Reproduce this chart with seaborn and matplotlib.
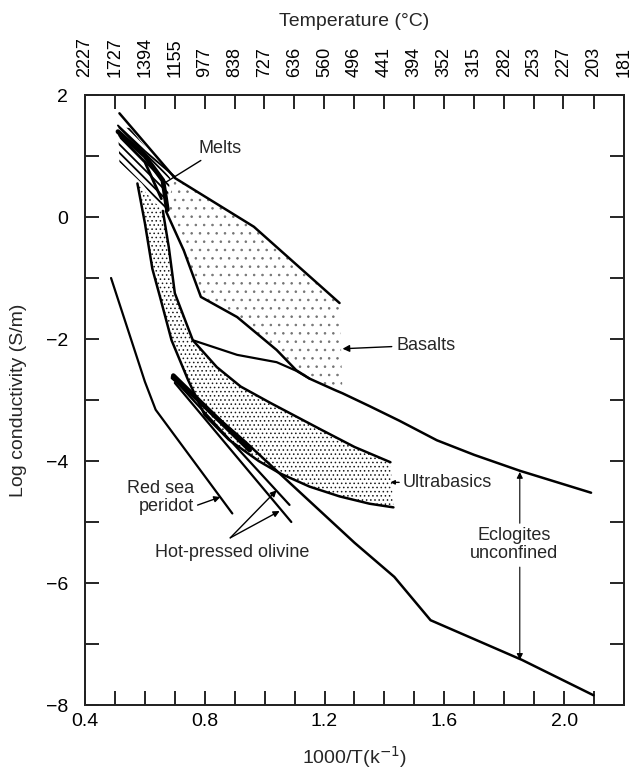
import numpy as np
import pandas as pd
import seaborn as sns
import matplotlib
matplotlib.use('Agg')
from matplotlib import pyplot as plt
from matplotlib.ticker import MultipleLocator, FormatStrFormatter

# curves: x = 1000/T, y = log conductivity
melt_top_x = [0.515, 0.70, 0.964, 1.25]
melt_top_y = [1.70, 0.64, -0.16, -1.41]

melt_a_x = [0.51, 0.60, 0.70]
melt_a_y = [1.50, 1.08, 0.66]
melt_b_x = [0.51, 0.60, 0.66, 0.675]
melt_b_y = [1.40, 1.00, 0.60, 0.12]
melt_c_x = [0.52, 0.60, 0.655]
melt_c_y = [1.30, 0.90, 0.30]

# basalt lower edge, continuing as upper eclogite curve
basalt_low_x = [0.67, 0.73, 0.787, 0.908, 1.04, 1.105, 1.15, 1.236, 1.26, 1.35, 1.45, 1.575, 1.70, 1.852, 2.09]
basalt_low_y = [0.10, -0.55, -1.31, -1.64, -2.18, -2.51, -2.65, -2.84, -2.89, -3.10, -3.34, -3.66, -3.90, -4.16, -4.52]

# branch joining ultrabasic top to basalt lower edge
branch_x = [0.76, 0.908, 1.04, 1.105, 1.15]
branch_y = [-2.02, -2.26, -2.38, -2.52, -2.65]

ultra_top_x = [0.66, 0.68, 0.70, 0.76, 0.84, 0.92, 1.02, 1.19, 1.30, 1.42]
ultra_top_y = [0.10, -0.50, -1.25, -2.02, -2.46, -2.78, -3.05, -3.49, -3.77, -4.02]

ultra_low_x = [0.575, 0.60, 0.625, 0.65, 0.689, 0.744, 0.80, 0.88, 0.98, 1.05, 1.15, 1.25, 1.35, 1.43]
ultra_low_y = [0.55, -0.10, -0.85, -1.30, -2.02, -2.67, -3.25, -3.65, -4.00, -4.20, -4.42, -4.58, -4.70, -4.76]

peridot_x = [0.487, 0.60, 0.636, 0.892]
peridot_y = [-1.00, -2.70, -3.16, -4.86]

olivine1_x = [0.69, 1.083]
olivine1_y = [-2.62, -4.72]
olivine2_x = [0.70, 1.089]
olivine2_y = [-2.72, -5.00]
olivine3_x = [0.695, 0.95]
olivine3_y = [-2.60, -3.82]

eclog_low_x = [0.69, 0.93, 1.30, 1.433, 1.554, 1.859, 2.098]
eclog_low_y = [-2.64, -3.66, -5.34, -5.90, -6.61, -7.26, -7.84]

temps_c = [2227, 1727, 1394, 1155, 977, 838, 727, 636, 560, 496,
           441, 394, 352, 315, 282, 253, 227, 203, 181]

curves = [
    ('melt_top', melt_top_x, melt_top_y, 1.8),
    ('melt_a', melt_a_x, melt_a_y, 1.4),
    ('melt_b', melt_b_x, melt_b_y, 3.4),
    ('melt_c', melt_c_x, melt_c_y, 2.0),
    ('basalt_low', basalt_low_x, basalt_low_y, 1.8),
    ('branch', branch_x, branch_y, 1.6),
    ('ultra_top', ultra_top_x, ultra_top_y, 1.8),
    ('ultra_low', ultra_low_x, ultra_low_y, 1.8),
    ('peridot', peridot_x, peridot_y, 1.6),
    ('olivine1', olivine1_x, olivine1_y, 1.6),
    ('olivine2', olivine2_x, olivine2_y, 1.6),
    ('olivine3', olivine3_x, olivine3_y, 3.4),
    ('eclog_low', eclog_low_x, eclog_low_y, 1.8),
]
rows = []
for name, xs, ys, lw in curves:
    for i, (a, b) in enumerate(zip(xs, ys)):
        rows.append({'curve': name, 'order': i, 'x': a, 'y': b, 'lw': lw})
df = pd.DataFrame(rows)

sns.set_theme(style='ticks')
plt.rcParams['font.family'] = ['Liberation Sans', 'DejaVu Sans']

fig = plt.figure(figsize=(6.32, 7.71), dpi=100)
ax = fig.add_axes([85/632, 66/771, 539/632, 610/771])

# shaded regions (hatched melts first with a heavier hatch line)
plt.rcParams['hatch.linewidth'] = 1.3
melt_px = [0.51, 0.55, 0.685, 0.67, 0.59, 0.515]
melt_py = [1.47, 1.46, 0.64, 0.08, 0.55, 0.90]
melt_patch = ax.fill(melt_px, melt_py, facecolor='none', edgecolor='black',
                     hatch='\\\\\\\\', linewidth=0)[0]
if hasattr(melt_patch, 'set_hatch_linewidth'):
    melt_patch.set_hatch_linewidth(1.3)

plt.rcParams['hatch.linewidth'] = 0.6
bas_x = melt_top_x[1:] + [1.26] + basalt_low_x[:9][::-1]
bas_y = melt_top_y[1:] + [-2.89] + basalt_low_y[:9][::-1]
bas_patch = ax.fill(bas_x, bas_y, facecolor='none', edgecolor='0.45', hatch='..', linewidth=0)[0]

ult_x = ultra_top_x + ultra_low_x[::-1]
ult_y = ultra_top_y + ultra_low_y[::-1]
ult_patch = ax.fill(ult_x, ult_y, facecolor='none', edgecolor='0.1', hatch='....', linewidth=0)[0]
for p in (bas_patch, ult_patch):
    if hasattr(p, 'set_hatch_linewidth'):
        p.set_hatch_linewidth(0.6)

for name, g in df.groupby('curve', sort=False):
    sns.lineplot(data=g, x='x', y='y', sort=False, estimator=None, color='black',
                 linewidth=g['lw'].iloc[0], ax=ax, legend=False)

fs = 13
ax.annotate('Melts', xy=(0.67, 0.57), xytext=(0.778, 1.12), fontsize=fs,
            ha='left', va='center',
            arrowprops=dict(arrowstyle='-', color='black', lw=1.0, shrinkA=0, shrinkB=0))
ax.annotate('Basalts', xy=(1.26, -2.16), xytext=(1.44, -2.10), fontsize=fs,
            ha='left', va='center',
            arrowprops=dict(arrowstyle='-|>', color='black', lw=1.0, mutation_scale=10,
                            shrinkA=1, shrinkB=0))
ax.annotate('Ultrabasics', xy=(1.42, -4.35), xytext=(1.46, -4.35), fontsize=fs,
            ha='left', va='center',
            arrowprops=dict(arrowstyle='-|>', color='black', lw=1.0, mutation_scale=6,
                            shrinkA=0, shrinkB=0))
ax.annotate('Red sea\nperidot', xy=(0.852, -4.59), xytext=(0.765, -4.60), fontsize=fs,
            ha='right', va='center', multialignment='right', linespacing=1.05,
            arrowprops=dict(arrowstyle='-|>', color='black', lw=1.0, mutation_scale=9,
                            shrinkA=0, shrinkB=0, relpos=(1, 0.25)))
ax.text(0.892, -5.50, 'Hot-pressed olivine', fontsize=fs, ha='center', va='center')
for tip in [(1.04, -4.48), (1.05, -4.82)]:
    ax.annotate('', xy=tip, xytext=(0.885, -5.26),
                arrowprops=dict(arrowstyle='-|>', color='black', lw=1.0, mutation_scale=9,
                                shrinkA=0, shrinkB=0))
ax.text(1.833, -5.37, 'Eclogites\nunconfined', fontsize=fs, ha='center', va='center',
        linespacing=1.05)
ax.annotate('', xy=(1.852, -4.18), xytext=(1.852, -5.02),
            arrowprops=dict(arrowstyle='-|>', color='black', lw=0.8, mutation_scale=9,
                            shrinkA=0, shrinkB=0))
ax.annotate('', xy=(1.852, -7.26), xytext=(1.852, -5.74),
            arrowprops=dict(arrowstyle='-|>', color='black', lw=0.8, mutation_scale=9,
                            shrinkA=0, shrinkB=0))

ax.set_xlim(0.4, 2.2)
ax.set_ylim(-8, 2)
ax.xaxis.set_major_locator(MultipleLocator(0.4))
ax.xaxis.set_minor_locator(MultipleLocator(0.1))
ax.xaxis.set_major_formatter(FormatStrFormatter('%.1f'))
ax.yaxis.set_major_locator(MultipleLocator(2))
ax.yaxis.set_minor_locator(MultipleLocator(1))
ax.tick_params(axis='both', which='both', direction='in', length=10, width=1.2,
               right=True, top=False, labelsize=14, colors='black', pad=6)
ax.tick_params(axis='y', which='both', pad=12)
for s in ax.spines.values():
    s.set_linewidth(1.3)
    s.set_color('black')
ax.set_xlabel('1000/T(k$^{-1}$)', fontsize=14, labelpad=10)
ax.set_ylabel('Log conductivity (S/m)', fontsize=14, labelpad=14)

ax2 = ax.twiny()
ax2.set_xlim(ax.get_xlim())
temp_pos = 1000 / (np.array(temps_c) + 273.0)
ax2.set_xticks(temp_pos)
ax2.set_xticklabels([str(t) for t in temps_c], rotation=90)
ax2.tick_params(axis='x', direction='in', length=10, width=1.2, labelsize=13, pad=13,
                colors='black')
ax2.set_xlabel('Temperature (°C)', fontsize=14, labelpad=8)

fig.savefig('out.png', dpi=100)
